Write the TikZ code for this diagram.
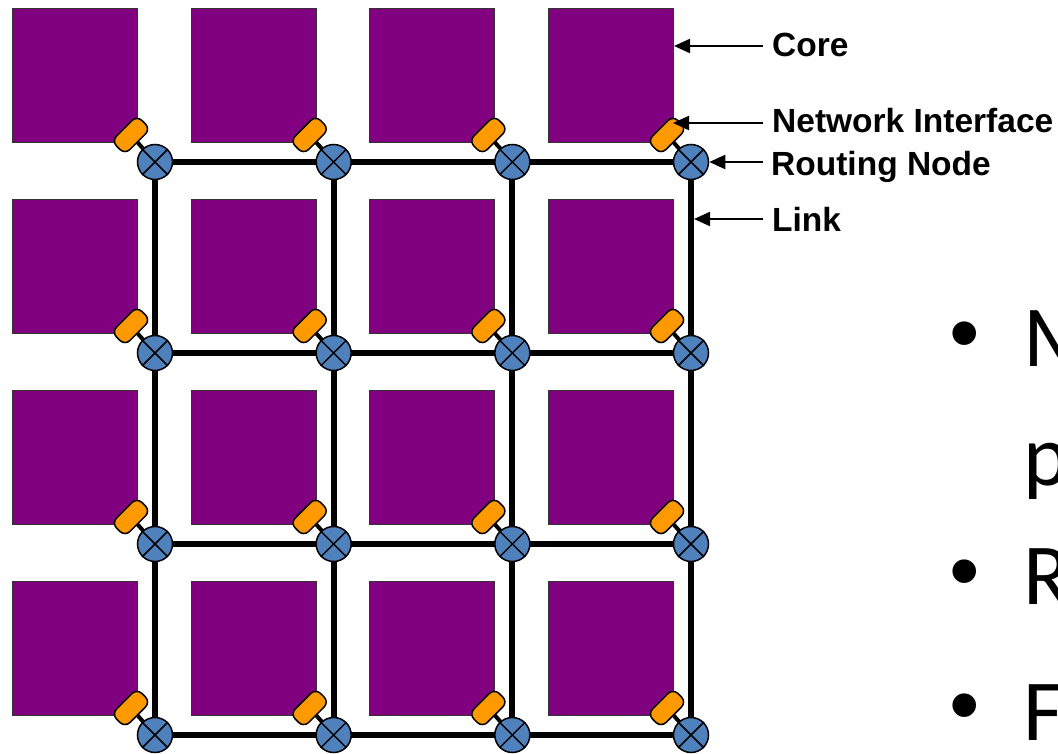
\documentclass[tikz,border=0pt]{standalone}
\usepackage{fontspec}
\setmainfont{Liberation Sans}
\newfontfamily\carlito{Carlito}
\usetikzlibrary{arrows.meta,backgrounds}
\definecolor{corepurple}{HTML}{800080}
\definecolor{routerblue}{HTML}{4F81BD}
\definecolor{niorange}{HTML}{FF9900}
\tikzset{
  corebox/.style={draw=black!80, line width=1pt, fill=corepurple, minimum width=125pt, minimum height=134pt, anchor=north west, inner sep=0pt},
  router/.style={circle, draw=black, line width=1.5pt, fill=routerblue, minimum size=35pt, inner sep=0pt},
  nibox/.style={rectangle, rounded corners=7pt, draw=black, line width=1.5pt, fill=niorange, minimum width=36pt, minimum height=19pt, inner sep=0pt, rotate=45},
  link/.style={line width=6pt, black},
  stub/.style={line width=4pt, black},
  xline/.style={line width=1.5pt, black},
  arr/.style={line width=2.2pt, -{Triangle[length=16pt,width=14pt]}},
  lbl/.style={anchor=base west, inner sep=0pt, font=\fontsize{33.5}{40}\selectfont\bfseries},
  bigtxt/.style={anchor=base west, inner sep=0pt, font=\fontsize{87}{100}\selectfont\carlito},
  bul/.style={anchor=base west, inner sep=0pt, font=\fontsize{87}{100}\selectfont},
}
\begin{document}
\begin{tikzpicture}[x=1pt,y=-1pt]
\useasboundingbox (0,0) rectangle (1058,754);
% cores, network interfaces and routers
\foreach \i in {0,1,2,3}{
  \foreach \j in {0,1,2,3}{
    \node[corebox] (core-\i-\j) at ({12+178.67*\i},{8+191*\j}) {};
    \node[nibox] (ni-\i-\j) at ({155+178.67*\i-24},{162+191*\j-27}) {};
    \node[router] (r-\i-\j) at ({155+178.67*\i},{162+191*\j}) {};
    \draw[xline] (r-\i-\j.north west) -- (r-\i-\j.south east);
    \draw[xline] (r-\i-\j.north east) -- (r-\i-\j.south west);
  }
}
\begin{scope}[on background layer]
\foreach \i [evaluate=\i as \n using int(\i+1)] in {0,1,2}{
  \foreach \j in {0,1,2,3}{
    \draw[link] (r-\i-\j.center) -- (r-\n-\j.center);
    \draw[link] (r-\j-\i.center) -- (r-\j-\n.center);
  }
}
\foreach \i in {0,1,2,3}{
  \foreach \j in {0,1,2,3}{
    \draw[stub] (ni-\i-\j.center) -- (r-\i-\j.center);
  }
}
\end{scope}
% labels
\node[lbl] (lcore) at (772,57) {Core};
\node[lbl] (lni) at (772,133) {Network Interface};
\node[lbl] (lrn) at (771,176) {Routing Node};
\node[lbl] (llink) at (772,232) {Link};
\coordinate (acore) at (763,46);
\coordinate (ani) at (763,123);
\coordinate (arn) at (763,162);
\coordinate (alink) at (763,219);
\draw[arr] (acore) -- (core-3-0.east |- acore);
\draw[arr] (ani) -- ([xshift=6]ni-3-0.center |- ani);
\draw[arr] (arn) -- (r-3-0.east);
\draw[arr] (alink) -- ([xshift=3]r-3-0.center |- alink);
% cropped bullet text
\begin{scope}
\clip (0,0) rectangle (1058,754);
\node[bul] (b1) at (949,362) {•};
\node[bigtxt] (t1) at (1023,366) {M};
\node[bigtxt] (t2) at (1023,485) {p};
\node[bul] (b2) at (949,600) {•};
\node[bigtxt] (t3) at (1023,604) {R};
\node[bul] (b3) at (949,734) {•};
\node[bigtxt] (t4) at (1023,740) {F};
\end{scope}
\end{tikzpicture}
\end{document}
